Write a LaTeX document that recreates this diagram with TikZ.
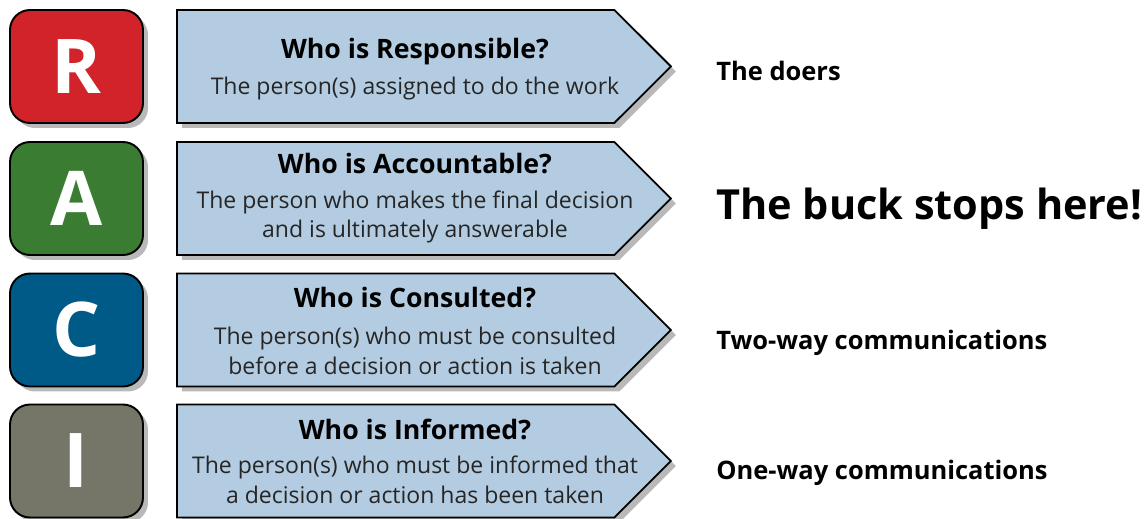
\documentclass[tikz,border=0pt]{standalone}
\usepackage{fontspec}
\setmainfont{Open Sans}
\usetikzlibrary{shapes.symbols,shadows}
\definecolor{raciRed}{RGB}{210,35,42}
\definecolor{raciGreen}{RGB}{58,125,50}
\definecolor{raciBlue}{RGB}{0,90,135}
\definecolor{raciGray}{RGB}{118,118,104}
\definecolor{paleBlue}{RGB}{180,204,225}
\newcommand{\arrowX}{176}
\newcommand{\textX}{415}
\newcommand{\noteX}{716}

\begin{document}
\begin{tikzpicture}[x=0.02cm,y=-0.02cm,
    letterbox/.style={draw=black, line width=1.1pt, rounded corners=0.4cm,
        minimum width=2.66cm, minimum height=2.26cm, inner sep=0pt,
        text=white, font=\bfseries\fontsize{43}{43}\selectfont,
        drop shadow={shadow xshift=0.1cm, shadow yshift=-0.1cm, opacity=0.55}},
    rolearrow/.style={signal, signal to=east, signal pointer angle=90,
        draw=black, line width=1.1pt, fill=paleBlue, anchor=west,
        minimum width=9.88cm, minimum height=2.26cm, inner sep=0pt,
        drop shadow={shadow xshift=0.1cm, shadow yshift=-0.1cm, opacity=0.55}},
    question/.style={font=\bfseries\fontsize{15.2}{18}\selectfont},
    answer/.style={align=center, text=black!85, font=\fontsize{13.1}{17}\selectfont},
    note/.style={anchor=west, inner sep=0pt, font=\bfseries\fontsize{14.5}{17}\selectfont}]

    \useasboundingbox (0,0) rectangle (1146,519);

    % Responsible
    \node[letterbox, fill=raciRed] (boxR) at (76.5,66.5) {R};
    \node[rolearrow] (arrowR) at (\arrowX,66.5) {};
    \node[question] (titleR) at (\textX,52) {Who is Responsible?};
    \node[answer] (textR) at (\textX,89) {The person(s) assigned to do the work};
    \node[note] (noteR) at (\noteX,71) {The doers};

    % Accountable
    \node[letterbox, fill=raciGreen] (boxA) at (76.5,198.5) {A};
    \node[rolearrow] (arrowA) at (\arrowX,198.5) {};
    \node[question] (titleA) at (\textX,164) {Who is Accountable?};
    \node[answer] (textA) at (\textX,217) {The person who makes the final decision\\and is ultimately answerable};
    \node[note, font=\bfseries\fontsize{23.6}{28}\selectfont] (noteA) at (\noteX,209) {The buck stops here!};

    % Consulted
    \node[letterbox, fill=raciBlue] (boxC) at (76.5,330) {C};
    \node[rolearrow] (arrowC) at (\arrowX,330) {};
    \node[question] (titleC) at (\textX,298) {Who is Consulted?};
    \node[answer] (textC) at (\textX,351) {The person(s) who must be consulted\\before a decision or action is taken};
    \node[note] (noteC) at (\noteX,343) {Two-way communications};

    % Informed
    \node[letterbox, fill=raciGray] (boxI) at (76.5,461) {I};
    \node[rolearrow] (arrowI) at (\arrowX,461) {};
    \node[question] (titleI) at (\textX,429) {Who is Informed?};
    \node[answer] (textI) at (\textX,480) {The person(s) who must be informed that\\a decision or action has been taken};
    \node[note] (noteI) at (\noteX,473) {One-way communications};
\end{tikzpicture}
\end{document}
